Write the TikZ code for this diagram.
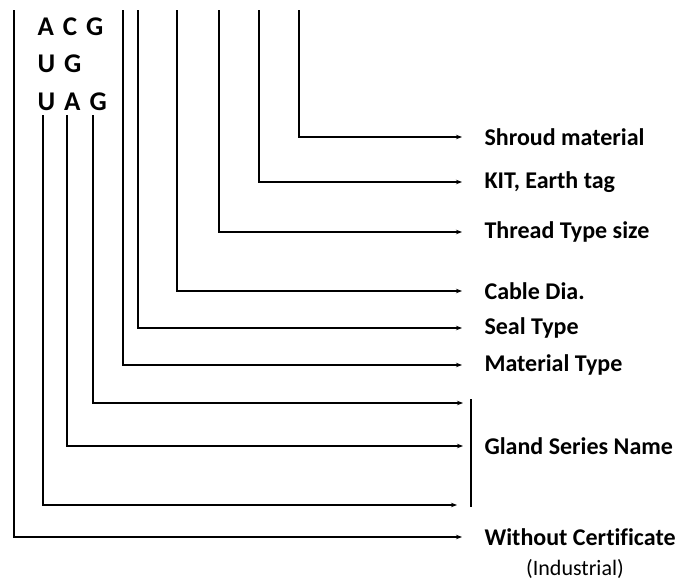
\documentclass[tikz,border=0pt]{standalone}
\usepackage{fontspec}
\setmainfont[Ligatures=NoCommon]{Carlito}
\usetikzlibrary{arrows.meta, positioning}

\begin{document}
\begin{tikzpicture}[x=1pt, y=-1pt, line width=1.1pt,
  every node/.style={font=\fontsize{24}{26}\selectfont\bfseries, inner sep=2pt},
  code/.style={anchor=west, font=\fontsize{27}{29}\selectfont\bfseries},
  lbl/.style={anchor=west},
  arr/.style={-{Stealth[length=6pt, width=4.5pt]}}]
  \useasboundingbox (0,0) rectangle (686,581);
  \node[code] (acg) at (35,27) {A\,\,C\,\,G};
  \node[code] (ug) at (35,64) {U\,\,G};
  \node[code] (uag) at (35,102) {U\,\,A\,\,G};
  \coordinate (t1) at (14,10);
  \coordinate (t2) at (43,115);
  \coordinate (t3) at (67,115);
  \coordinate (t4) at (93,115);
  \coordinate (t5) at (123,10);
  \coordinate (t6) at (138,10);
  \coordinate (t7) at (177,10);
  \coordinate (t8) at (219,10);
  \coordinate (t9) at (259,10);
  \coordinate (t10) at (299,10);
  \node[lbl] (shroud) at (482,137) {Shroud material};
  \node[lbl] (kit) at (482,182) {KIT, Earth tag};
  \node[lbl] (thread) at (482,232) {Thread Type size};
  \node[lbl] (cable) at (482,291) {Cable Dia.};
  \node[lbl] (seal) at (482,328) {Seal Type};
  \node[lbl] (material) at (482,365) {Material Type};
  \node[lbl] (gland) at (482,446) {Gland Series Name};
  \node[lbl] (without) at (482,537) {Without Certificate};
  \node[font=\fontsize{22}{24}\selectfont] (industrial) at (575,569) {(Industrial)};
  \coordinate (barT) at (471,399);
  \coordinate (barB) at (471,507);
  \draw (barT) -- (barB);
  \draw[arr] (t10) |- ([xshift=-20pt]shroud.west);
  \draw[arr] (t9) |- ([xshift=-20pt]kit.west);
  \draw[arr] (t8) |- ([xshift=-20pt]thread.west);
  \draw[arr] (t7) |- ([xshift=-20pt]cable.west);
  \draw[arr] (t6) |- ([xshift=-20pt]seal.west);
  \draw[arr] (t5) |- ([xshift=-20pt]material.west);
  \draw[arr] (t4) |- ([xshift=-8pt]barT |- 0,403);
  \draw[arr] (t3) |- ([xshift=-8pt]barT |- gland.west);
  \draw[arr] (t2) |- ([xshift=-14pt]barT |- 0,505);
  \draw[arr] (t1) |- ([xshift=-20pt]without.west);
\end{tikzpicture}
\end{document}
